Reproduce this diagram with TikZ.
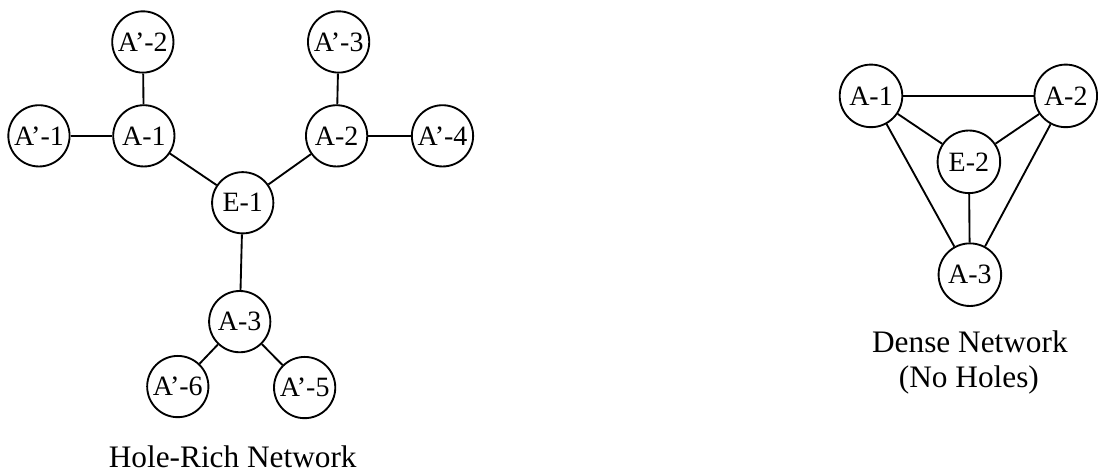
\documentclass[tikz,border=0pt]{standalone}
\usepackage{fontspec}
\setmainfont{Liberation Serif}
\begin{document}
\begin{tikzpicture}[x=0.75pt,y=0.75pt,yscale=-1,xscale=1]
\tikzset{actor/.style={draw,circle,line width=1.4pt,inner sep=0pt,minimum size=46pt,font=\fontsize{21}{24}\selectfont},
  tie/.style={line width=1.4pt},
  caption/.style={anchor=base,inner sep=0.75pt,font=\fontsize{23.5}{27}\selectfont}}
%set diagram frame 1098 x 474
\path[fill=white] (0,0) rectangle (1098,474);

%Hole-rich network
\node[actor] (ha2) at (143,42) {A’-2};
\node[actor] (ha3) at (339,42) {A’-3};
\node[actor] (ha1) at (39,136) {A’-1};
\node[actor] (a1) at (144,136) {A-1};
\node[actor] (a2) at (337,136) {A-2};
\node[actor] (ha4) at (443,136) {A’-4};
\node[actor] (e1) at (243,203) {E-1};
\node[actor] (a3) at (240,322) {A-3};
\node[actor] (ha6) at (178,387) {A’-6};
\node[actor] (ha5) at (305,388) {A’-5};
\draw[tie] (ha2) -- (a1) ;
\draw[tie] (ha1) -- (a1) ;
\draw[tie] (a1) -- (e1) ;
\draw[tie] (e1) -- (a2) ;
\draw[tie] (a2) -- (ha3) ;
\draw[tie] (a2) -- (ha4) ;
\draw[tie] (e1) -- (a3) ;
\draw[tie] (a3) -- (ha6) ;
\draw[tie] (a3) -- (ha5) ;
% Text Node
\node[caption] (holecap) at (233,468) {Hole-Rich Network};

%Dense network
\node[actor,minimum size=47pt] (d1) at (872,96) {A-1};
\node[actor,minimum size=47pt] (d2) at (1067,96) {A-2};
\node[actor,minimum size=47pt] (e2) at (970,162) {E-2};
\node[actor,minimum size=47pt] (d3) at (971,275) {A-3};
\draw[tie] (d1) -- (d2) ;
\draw[tie] (d1) -- (e2) ;
\draw[tie] (d2) -- (e2) ;
\draw[tie] (e2) -- (d3) ;
\draw[tie] (d1) -- (d3) ;
\draw[tie] (d2) -- (d3) ;
% Text Node
\node[caption] (densecap) at (971,353) {Dense Network};
\node[caption] (densecap2) at (970,388) {(No Holes)};
\end{tikzpicture}
\end{document}
